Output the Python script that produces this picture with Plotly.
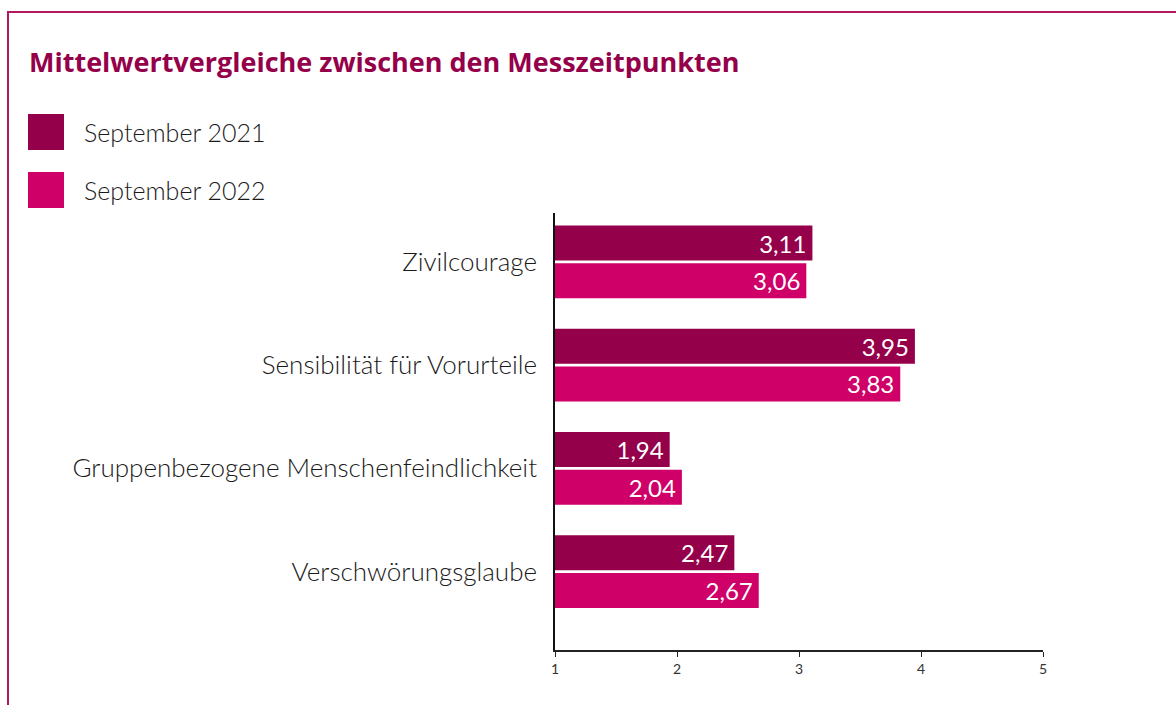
import plotly.graph_objects as go

categories = ["Zivilcourage", "Sensibilität für Vorurteile",
              "Gruppenbezogene Menschenfeindlichkeit", "Verschwörungsglaube"]
series_names = ["September 2021", "September 2022"]
values_2021 = [3.11, 3.95, 1.94, 2.47]
values_2022 = [3.06, 3.83, 2.04, 2.67]
labels_2021 = ["3,11", "3,95", "1,94", "2,47"]
labels_2022 = ["3,06", "3,83", "2,04", "2,67"]
x_ticks = [1, 2, 3, 4, 5]

colors = ["#95004A", "#CF0068"]
FONT = "Lato"
W, H = 1176, 705
L, R, T, B = 555, 133, 213, 55
pw, ph = W - L - R, H - T - B


def px_x(p):
    return (p - L) / pw


def px_y(p):
    return (H - B - p) / ph


fig = go.Figure()
for name, vals, labs, col in zip(series_names, [values_2021, values_2022],
                                  [labels_2021, labels_2022], colors):
    fig.add_trace(go.Bar(
        y=categories, x=[v - 1 for v in vals], base=1, orientation="h",
        name=name, marker=dict(color=col, line=dict(width=0)),
        text=[l + "\u2009" for l in labs], textposition="inside",
        insidetextanchor="end",
        textfont=dict(family=FONT, size=24, color="white"),
        showlegend=False, cliponaxis=False,
    ))

shapes = [
    dict(type="rect", xref="paper", yref="paper",
         x0=px_x(8), x1=px_x(1300), y0=px_y(800), y1=px_y(12),
         line=dict(color="#B0195F", width=2), fillcolor="rgba(0,0,0,0)",
         layer="below"),
]
annotations = []
for i, (name, col) in enumerate(zip(series_names, colors)):
    top = 114 + i * 58
    shapes.append(dict(type="rect", xref="paper", yref="paper",
                       x0=px_x(28), x1=px_x(64), y0=px_y(top + 36), y1=px_y(top),
                       line=dict(width=0), fillcolor=col))
    annotations.append(dict(xref="paper", yref="paper", x=px_x(82), y=px_y(top + 18),
                            xanchor="left", yanchor="middle", showarrow=False,
                            text=name, font=dict(family=FONT, size=25, color="#1a1a1a",
                                                 weight=300)))

annotations.append(dict(xref="paper", yref="paper", x=px_x(27), y=px_y(62),
                        xanchor="left", yanchor="middle", showarrow=False,
                        text="<b>Mittelwertvergleiche zwischen den Messzeitpunkten</b>",
                        font=dict(family="Open Sans", size=27, color="#95004A")))

fig.update_layout(
    width=W, height=H, barmode="group", bargap=0.27, bargroupgap=0.07,
    margin=dict(l=L, r=R, t=T, b=B, autoexpand=False),
    paper_bgcolor="white", plot_bgcolor="white",
    shapes=shapes, annotations=annotations,
    xaxis=dict(range=[1, 5], tickvals=x_ticks, ticktext=[str(t) for t in x_ticks],
               showgrid=False, zeroline=False, showline=True, linecolor="#222",
               linewidth=1.5, ticks="outside", ticklen=5, tickcolor="#222",
               tickfont=dict(family=FONT, size=14, color="#333")),
    yaxis=dict(categoryorder="array", categoryarray=categories,
               range=[3.76, -0.474], showgrid=False, zeroline=False,
               showline=True, linecolor="#111", linewidth=1.5, ticks="",
               ticklabelstandoff=11,
               tickfont=dict(family=FONT, size=26, color="#1a1a1a", weight=300)),
    showlegend=False,
)
fig.write_html("out.html", config={"displayModeBar": False},
               post_script="document.body.style.margin='0';")
